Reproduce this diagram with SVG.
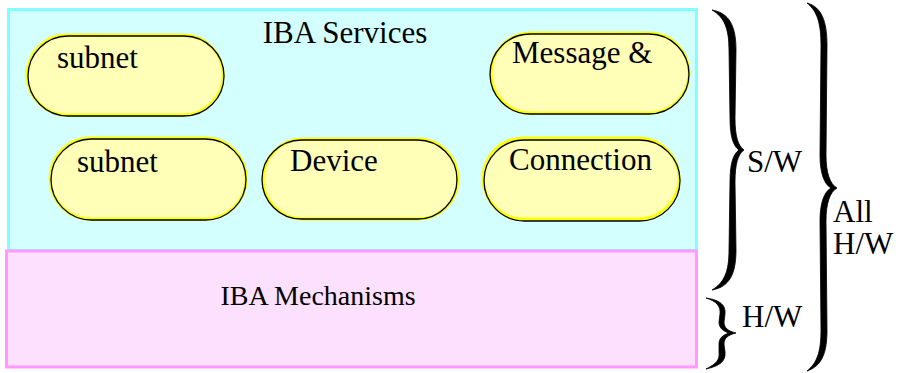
<svg xmlns="http://www.w3.org/2000/svg" width="906" height="373" viewBox="0 0 906 373">
<style>
text{font-family:"Liberation Serif","Times New Roman",serif;fill:#000}
.t{font-size:31px}
.m{font-size:28px}
.pillY{fill:#ffffb8;stroke:#ffff00;stroke-width:3}
.pillK{fill:none;stroke:#000;stroke-width:1.3}
.brace{fill:#000;stroke:#000;stroke-width:0.8;stroke-linejoin:round}
</style>
<rect width="906" height="373" fill="#fff"/>
<g id="services">
<rect x="8.5" y="9.5" width="688" height="241" fill="#d4ffff" stroke="#80ffff" stroke-width="3"/>
<text class="t" x="345" y="43" text-anchor="middle">IBA Services</text>
</g>
<g id="mechanisms">
<rect x="6.5" y="251" width="690" height="116" fill="#fde0fd" stroke="#ff99ff" stroke-width="3"/>
<text class="m" x="318" y="305" text-anchor="middle">IBA Mechanisms</text>
</g>
<g id="subnet1">
<rect class="pillY" x="27" y="35" width="196" height="80" rx="40"/>
<rect class="pillK" x="28" y="36" width="196" height="80" rx="40"/>
<text class="t" x="57" y="68">subnet</text>
</g>
<g id="message">
<rect class="pillY" x="491" y="33" width="198" height="80" rx="40"/>
<rect class="pillK" x="490" y="34" width="199" height="80" rx="40"/>
<text class="t" x="512" y="63">Message &amp;</text>
</g>
<g id="subnet2">
<rect class="pillY" x="50" y="138" width="196" height="81" rx="40.5"/>
<rect class="pillK" x="51" y="139" width="195" height="81" rx="40.5"/>
<text class="t" x="77" y="172">subnet</text>
</g>
<g id="device">
<rect class="pillY" x="263" y="139" width="195" height="80" rx="40"/>
<rect class="pillK" x="262" y="140" width="195" height="79" rx="39.5"/>
<text class="t" x="290" y="171">Device</text>
</g>
<g id="connection">
<rect class="pillY" x="483" y="138" width="196" height="81" rx="40.5"/>
<rect class="pillK" x="484" y="140" width="196" height="81" rx="40.5"/>
<text class="t" x="509" y="170">Connection</text>
</g>
<g id="connectors">
<path class="brace" d="M712,10 C730,13 736,27 736,50 L735,118 C735,136 738,146 744,150 C738,154 735,164 735,182 L736,250 C736,273 730,287 712,290 C724,283 729,272 729,250 L730,182 C730,164 733,154 739,150 C733,146 730,136 730,118 L729,50 C729,28 724,17 712,10 Z"/>
<path class="brace" d="M706,298 C720,300 726,305 725,314 L724,322 C724,328 728,331 736,333 C728,335 724,338 724,344 L725,352 C726,361 720,366 706,369 C716,364 720,360 719,352 L719,344 C719,338 723,335 729,333 C723,331 719,328 719,322 L720,314 C721,306 716,301 706,298 Z"/>
<path class="brace" d="M807,3 C822,7 827,22 827,45 L826,155 C826,173 830,184 837,188 C830,192 826,203 826,221 L827,330 C827,353 822,366 807,371 C817,363 821,352 821,330 L820,221 C820,203 824,192 831,188 C824,184 820,173 820,155 L821,45 C821,23 817,11 807,3 Z"/>
</g>
<g id="labels">
<text class="t" x="747" y="172">S/W</text>
<text class="t" x="742" y="327">H/W</text>
<text class="t" x="833" y="222">All</text>
<text class="t" x="833" y="254">H/W</text>
</g>
</svg>
